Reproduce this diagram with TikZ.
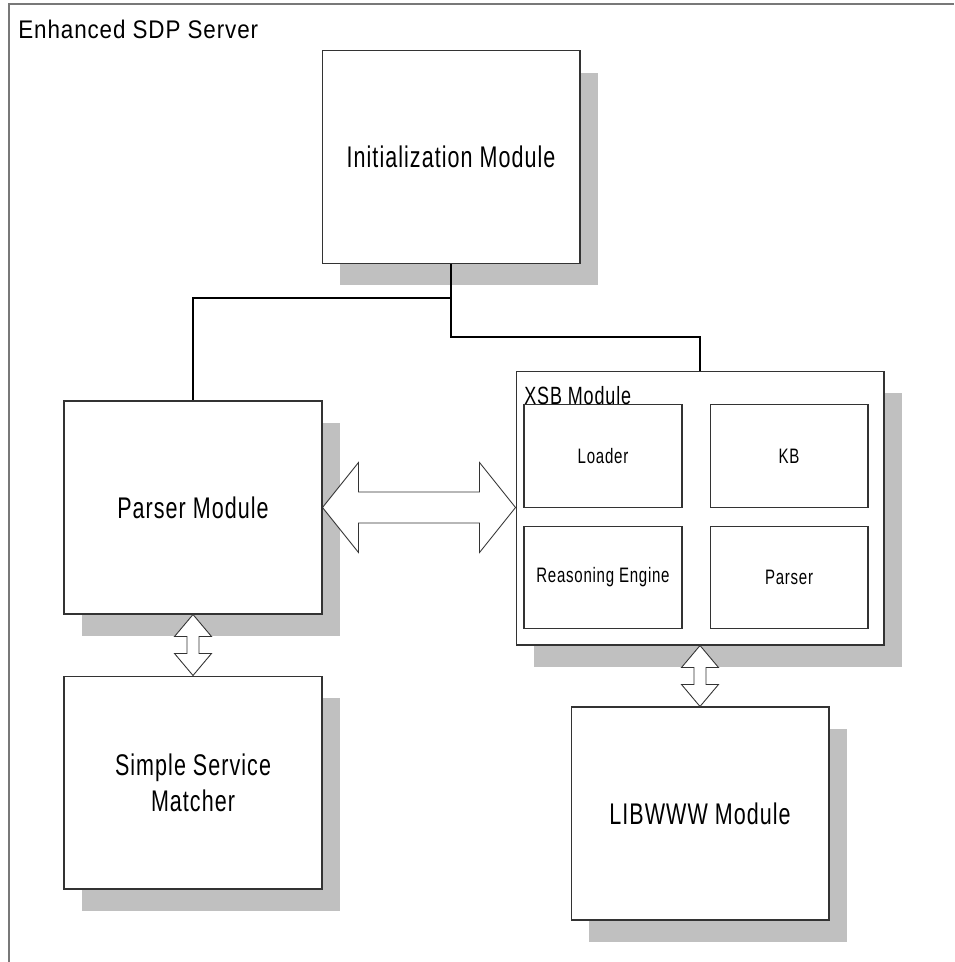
\documentclass[tikz,border=0pt]{standalone}
\usepackage{fontspec}
\setmainfont{Liberation Sans}[FakeStretch=0.72, LetterSpace=3.5]
\newfontfamily\framefont{Liberation Sans}[FakeStretch=0.88, LetterSpace=3.5]
\usepackage{xcolor}
\usepackage{tikz}
\usetikzlibrary{calc, positioning, shadows}
\definecolor{shadowgray}{RGB}{192,192,192}
\definecolor{framegray}{RGB}{120,120,120}
\tikzset{
    module/.style={rectangle, draw=black!80, line width=0.6pt, fill=white, minimum width=5.16cm, minimum height=4.26cm, inner sep=0pt, align=center, font=\fontsize{17}{20.4}\selectfont, drop shadow={shadow xshift=0.36cm, shadow yshift=-0.44cm, fill=shadowgray, opacity=1}},
    container/.style={module, minimum width=7.36cm, minimum height=5.48cm},
    part/.style={rectangle, draw=black!80, line width=0.6pt, fill=white, minimum width=3.16cm, minimum height=2.05cm, inner sep=0pt, align=center, font=\fontsize{11.9}{14}\selectfont},
    wire/.style={draw=black, line width=0.6pt},
    fatarrow/.style={draw=black!80, line width=0.5pt, fill=white, line join=miter},
    caption/.style={inner sep=0pt, anchor=base west},
    frame/.style={draw=framegray, line width=1.2pt}
}
% hollow double arrows between two node anchors
\newcommand{\hfat}[2]{%
    \draw[fatarrow] let \p1=(#1), \p2=(#2) in
        (\p1) -- (\x1+0.72cm,\y1+0.9cm) -- (\x1+0.72cm,\y1+0.31cm) -- (\x2-0.72cm,\y1+0.31cm)
        -- (\x2-0.72cm,\y1+0.9cm) -- (\x2,\y1) -- (\x2-0.72cm,\y1-0.9cm) -- (\x2-0.72cm,\y1-0.31cm)
        -- (\x1+0.72cm,\y1-0.31cm) -- (\x1+0.72cm,\y1-0.9cm) -- cycle;}
\newcommand{\vfat}[2]{%
    \draw[fatarrow] let \p1=(#1), \p2=(#2) in
        (\p1) -- (\x1+0.37cm,\y1-0.44cm) -- (\x1+0.12cm,\y1-0.44cm) -- (\x1+0.12cm,\y2+0.44cm)
        -- (\x1+0.37cm,\y2+0.44cm) -- (\x1,\y2) -- (\x1-0.37cm,\y2+0.44cm) -- (\x1-0.12cm,\y2+0.44cm)
        -- (\x1-0.12cm,\y1-0.44cm) -- (\x1-0.37cm,\y1-0.44cm) -- cycle;}

\begin{document}
\begin{tikzpicture}[x=0.02cm, y=-0.02cm]
    \useasboundingbox (0,0) rectangle (954,962);

    % Server frame
    \draw[frame] (9,962) -- (9,4) -- (954,4);
    \node[caption, font=\framefont\fontsize{14.5}{17}\selectfont] (server) at (18,39) {Enhanced SDP Server};

    % Modules
    \node[module] (init) at (451,157) {Initialization Module};
    \node[module] (parser) at (193,507.5) {Parser Module};
    \node[module, below=1.22cm of parser] (matcher) {Simple Service\\Matcher};
    \node[container] (xsb) at (700,508) {};
    \node[module, below=1.22cm of xsb] (libwww) {LIBWWW Module};

    % XSB internals
    \node[part] (loader) at (603,456) {Loader};
    \node[part, right=0.54cm of loader] (kb) {KB};
    \node[part, below=0.36cm of loader] (reason) {Reasoning Engine};
    \node[part, below=0.36cm of kb] (xparser) {Parser};
    \node[caption, font=\fontsize{14.2}{17}\selectfont] (xsblabel) at (524,404) {XSB Module};

    % Wires
    \coordinate (split) at (451,298);
    \coordinate (bend) at (451,337);
    \draw[wire] (init.south) -- (split) -| (parser.north);
    \draw[wire] (split) -- (bend) -| (xsb.north);

    % Double arrows
    \hfat{parser.east}{xsb.west}
    \vfat{parser.south}{matcher.north}
    \vfat{xsb.south}{libwww.north}
\end{tikzpicture}
\end{document}
